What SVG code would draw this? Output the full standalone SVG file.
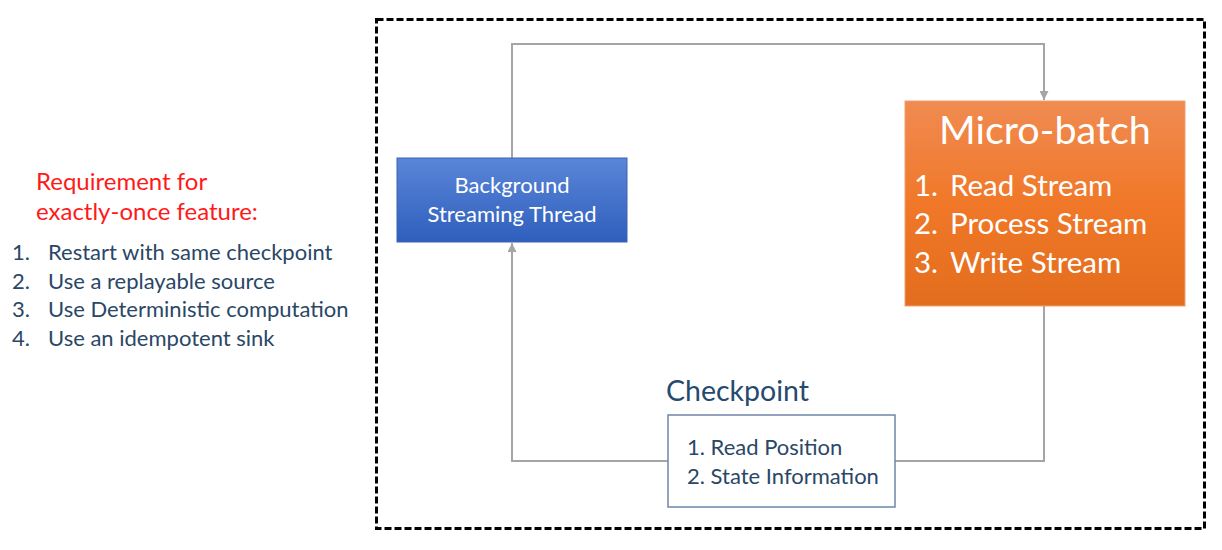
<svg xmlns="http://www.w3.org/2000/svg" width="1222" height="550" viewBox="0 0 1222 550">
<defs>
<linearGradient id="gBlue" x1="0" y1="0" x2="0" y2="1">
<stop offset="0" stop-color="#5a86d8"/>
<stop offset="1" stop-color="#2f5fbd"/>
</linearGradient>
<linearGradient id="gOrange" x1="0" y1="0" x2="0" y2="1">
<stop offset="0" stop-color="#f08b52"/>
<stop offset="0.5" stop-color="#f07828"/>
<stop offset="1" stop-color="#e36d1e"/>
</linearGradient>
<marker id="arr" viewBox="0 0 10 10" refX="10" refY="5" markerWidth="4.5" markerHeight="4.5" orient="auto" markerUnits="strokeWidth">
<path d="M0,0 L10,5 L0,10 z" fill="#a5a5a5"/>
</marker>
<style>
.t{font-family:Lato,"Open Sans","Liberation Sans",sans-serif}
.navy{fill:#2a4766}
.conn{fill:none;stroke:#a5a5a5;stroke-width:2}
</style>
</defs>
<rect width="1222" height="550" fill="#ffffff"/>
<rect x="376.5" y="19.5" width="828" height="509" fill="none" stroke="#000" stroke-width="3" stroke-dasharray="7,3"/>
<g id="connectors">
<path class="conn" d="M512,158 V44 H1044 V100" marker-end="url(#arr)"/>
<path class="conn" d="M1044,306 V461 H512 V243" marker-end="url(#arr)"/>
</g>
<g id="requirements" class="t">
<text x="36" y="190" font-size="24" fill="#ff1a1a">Requirement for</text>
<text x="36" y="220" font-size="24" fill="#ff1a1a">exactly-once feature:</text>
<g class="navy" font-size="22">
<text x="12" y="260">1.</text><text x="48" y="260">Restart with same checkpoint</text>
<text x="12" y="289">2.</text><text x="48" y="289">Use a replayable source</text>
<text x="12" y="317">3.</text><text x="48" y="317">Use Deterministic computation</text>
<text x="12" y="346">4.</text><text x="48" y="346">Use an idempotent sink</text>
</g>
</g>
<g id="background-thread">
<rect x="397" y="158" width="230" height="84" fill="url(#gBlue)" stroke="#3a64b0" stroke-width="1"/>
<text class="t" x="512" y="193" font-size="22" fill="#ffffff" text-anchor="middle">Background</text>
<text class="t" x="512" y="222" font-size="22" fill="#ffffff" text-anchor="middle">Streaming Thread</text>
</g>
<g id="micro-batch">
<rect x="905" y="101" width="280" height="205" fill="url(#gOrange)" stroke="#f0a070" stroke-width="1"/>
<text class="t" x="1045" y="144" font-size="39.5" fill="#ffffff" text-anchor="middle">Micro-batch</text>
<g class="t" font-size="29.5" fill="#ffffff">
<text x="914" y="196">1.</text><text x="950" y="196">Read Stream</text>
<text x="914" y="234">2.</text><text x="950" y="234">Process Stream</text>
<text x="914" y="273">3.</text><text x="950" y="273">Write Stream</text>
</g>
</g>
<g id="checkpoint">
<text class="t" x="666" y="401" font-size="28.5" fill="#264a6e">Checkpoint</text>
<rect x="668" y="415" width="227" height="92" fill="#ffffff" stroke="#6f87a8" stroke-width="1.5"/>
<text class="t navy" x="687" y="455" font-size="22">1. Read Position</text>
<text class="t navy" x="687" y="484" font-size="22">2. State Information</text>
</g>
</svg>
